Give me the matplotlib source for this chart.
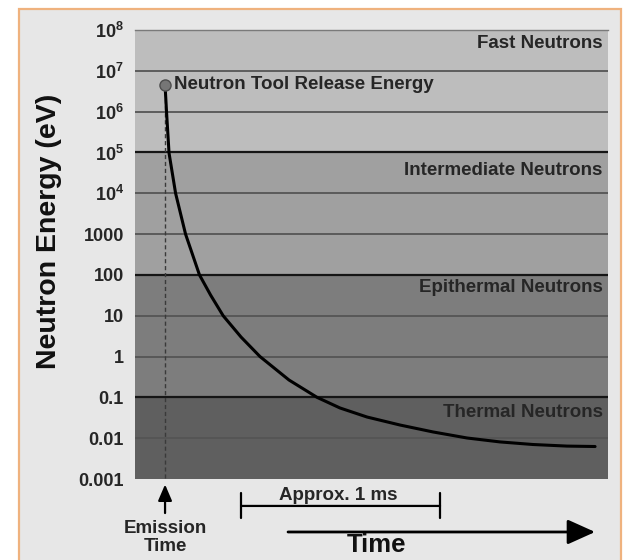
import matplotlib
matplotlib.use("Agg")
import matplotlib.pyplot as plt
from matplotlib.patches import Rectangle

plt.rcParams['font.family'] = ['Liberation Sans', 'DejaVu Sans']
plt.rcParams['mathtext.fontset'] = 'custom'
plt.rcParams['mathtext.rm'] = 'Liberation Sans'
plt.rcParams['mathtext.bf'] = 'Liberation Sans:bold'

# slowing-down curve (time in ms after emission, energy in eV)
time_ms = [0.0, 0.0075, 0.020, 0.053, 0.103, 0.173, 0.229, 0.292, 0.382, 0.477,
           0.623, 0.764, 0.879, 1.015, 1.181, 1.347, 1.518, 1.683, 1.849,
           2.020, 2.161]
energy_ev = [4.5e6, 9.8e5, 9.7e4, 1.0e4, 1000, 100, 32, 10, 3.0, 1,
             0.266, 0.1, 0.055, 0.033, 0.021, 0.0142, 0.0101, 0.0081, 0.0070,
             0.0064, 0.00625]

# energy regions
band_names = ['Fast Neutrons', 'Intermediate Neutrons', 'Epithermal Neutrons', 'Thermal Neutrons']
band_low = [1e5, 100, 0.1, 0.001]
band_high = [1e8, 1e5, 100, 0.1]
band_label_y = [10 ** 7.66, 10 ** 4.57, 10 ** 1.70, 10 ** -1.36]
band_colors = ['#bdbdbd', '#a0a0a0', '#7d7d7d', '#5f5f5f']

ytick_vals = [1e-3, 1e-2, 0.1, 1, 10, 100, 1000, 1e4, 1e5, 1e6, 1e7, 1e8]
ytick_labels = ['0.001', '0.01', '0.1', '1', '10', '100', '1000',
                r'$\mathbf{10^{4}}$', r'$\mathbf{10^{5}}$', r'$\mathbf{10^{6}}$',
                r'$\mathbf{10^{7}}$', r'$\mathbf{10^{8}}$']

fig = plt.figure(figsize=(6.31, 5.6), dpi=100, facecolor='white')
# light panel with orange frame
fig.patches.append(Rectangle((19 / 631, -0.02), 602 / 631, 1 - 9 / 560 + 0.02,
                             transform=fig.transFigure, facecolor='#e7e7e7',
                             edgecolor='#efb27e', lw=1.6, zorder=-10))

ax = fig.add_axes([135 / 631, 1 - 479 / 560, 473 / 631, 449 / 560])
ax.set_yscale('log')
ax.set_ylim(1e-3, 1e8)
ax.set_xlim(-0.151, 2.226)

for lo, hi, c in zip(band_low, band_high, band_colors):
    ax.axhspan(lo, hi, color=c, lw=0, zorder=0)

for v in ytick_vals[1:-1]:
    if v in (1e5, 100, 0.1):
        ax.axhline(v, color='#151515', lw=1.6, zorder=1)
    else:
        ax.axhline(v, color='#555555', lw=1.3, zorder=1)

for name, yv in zip(band_names, band_label_y):
    ax.text(0.989, yv, name, transform=ax.get_yaxis_transform(), ha='right', va='center',
            fontsize=13.5, fontweight='bold', color='#262626', zorder=3)

# dashed line at emission time
ax.plot([time_ms[0], time_ms[0]], [energy_ev[0], 1e-3], color='#3a3a3a', lw=1,
        ls=(0, (3, 2)), zorder=2)
ax.plot(time_ms, energy_ev, color='black', lw=2.2, solid_joinstyle='round',
        solid_capstyle='round', zorder=4)
ax.plot(time_ms[0], energy_ev[0], 'o', ms=8, color='#767676', mec='#4d4d4d', mew=1, zorder=5)
ax.text(0.045, energy_ev[0], 'Neutron Tool Release Energy', ha='left', va='center',
        fontsize=13.5, fontweight='bold', color='#262626', zorder=5)

ax.set_yticks(ytick_vals)
ax.set_yticklabels(ytick_labels)
ax.minorticks_off()
ax.set_xticks([])
ax.tick_params(axis='y', length=0, pad=8, labelsize=13, labelcolor='#262626')
for lab in ax.get_yticklabels():
    lab.set_fontweight('bold')
for s in ['left', 'bottom', 'right']:
    ax.spines[s].set_visible(False)
ax.spines['top'].set_color('#7a7a7a')
ax.spines['top'].set_linewidth(1)

fig.text(49 / 631, 1 - 231 / 560, 'Neutron Energy (eV)', rotation=90, ha='center',
         va='center', fontsize=20.5, fontweight='bold', color='#111111')

tr = ax.get_xaxis_transform()
# emission arrow
ax.annotate('', xy=(0, -0.006), xytext=(0, -0.082), xycoords=tr, textcoords=tr,
            arrowprops=dict(arrowstyle='-|>,head_length=0.7,head_width=0.3', color='black',
                            lw=1.6, mutation_scale=14), annotation_clip=False)
ax.text(0, -0.131, 'Emission\nTime', transform=tr, ha='center', va='center',
        fontsize=13.5, fontweight='bold', color='#262626', linespacing=1.05)

# approx. 1 ms bar
ax.annotate('', xy=(1.382, -0.060), xytext=(0.382, -0.060), xycoords=tr, textcoords=tr,
            arrowprops=dict(arrowstyle='|-|,widthA=0.45,widthB=0.45', color='black', lw=1.6,
                            shrinkA=0, shrinkB=0, mutation_scale=20), annotation_clip=False)
ax.text(0.87, -0.037, 'Approx. 1 ms', transform=tr, ha='center', va='center',
        fontsize=13.5, fontweight='bold', color='#262626')

# time arrow
ax.annotate('', xy=(2.161, -0.118), xytext=(0.618, -0.118), xycoords=tr, textcoords=tr,
            arrowprops=dict(arrowstyle='-|>,head_length=1.0,head_width=0.45', color='black',
                            lw=2, shrinkA=0, shrinkB=0, mutation_scale=17), annotation_clip=False)
ax.text(1.065, -0.148, 'Time', transform=tr, ha='center', va='center',
        fontsize=18.5, fontweight='bold', color='#111111')

fig.savefig('out.png', dpi=100, facecolor='white')
